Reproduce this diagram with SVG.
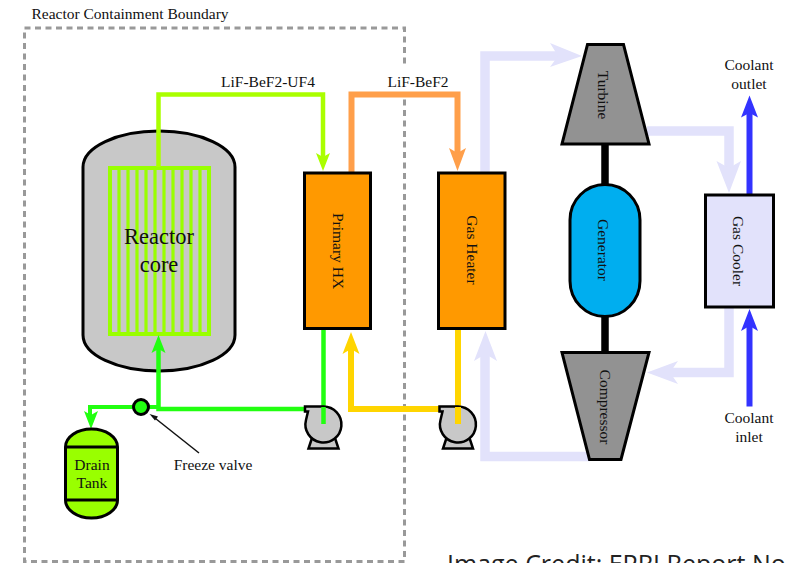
<svg xmlns="http://www.w3.org/2000/svg" width="787" height="563" viewBox="0 0 787 563">
<style>
.t{font-family:"Liberation Serif","Times New Roman",serif;font-size:15.500px;fill:#111;text-anchor:middle}
.eq{stroke:#000;stroke-width:3;stroke-linejoin:miter}
.pipe{fill:none;stroke-linejoin:miter}
.air{fill:none;stroke:#e2e2fb;stroke-width:9.500}
.bar{fill:none;stroke:#99ff00;stroke-width:3.200}
</style>
<defs>
<g id="pump">
<path d="M-11 12-15 24H15L11 12Z" fill="#c8c8c8" stroke="#000" stroke-width="2.500"/>
<path d="M-18.500-18H0A18 18 0 1 1-17.500-4.500L-15.500-13H-18.500Z" fill="#c8c8c8" stroke="#000" stroke-width="2.500"/>
</g>
</defs>
<rect width="787" height="563" fill="#fff"/>
<g id="containment">
<rect x="24.500" y="28" width="380" height="533.500" fill="none" stroke="#999" stroke-width="3" stroke-dasharray="6 4.500"/>
<rect x="384" y="68" width="68" height="24" fill="#fff"/>
<text class="t" x="130" y="19">Reactor Containment Boundary</text>
</g>
<g id="reactor">
<path class="eq" d="M83 167A76 36 0 0 1 235 167V335A76 36 0 0 1 83 335Z" fill="#c8c8c8"/>
<path class="bar" d="M119 168V334M128 168V334M137 168V334M146 168V334M155 168V334M164 168V334M173 168V334M182 168V334M191 168V334M200 168V334"/>
<rect x="110" y="168" width="99" height="166" fill="none" stroke="#99ff00" stroke-width="4"/>
<text class="t" style="font-size:22.500px" x="159" y="244">Reactor</text>
<text class="t" style="font-size:22.500px" x="159" y="272">core</text>
</g>
<g id="connectors">
<path class="pipe" d="M158.500 167V94.500H323V158" stroke="#aaff00" stroke-width="4.500"/>
<path d="M323 171 316 153 323 157 330 153Z" fill="#aaff00"/>
<path class="pipe" d="M351.500 172V94.500H457.500V155" stroke="#ff9f4a" stroke-width="6"/>
<path d="M457.500 171 449 148 457.500 153 466 148Z" fill="#ff9f4a"/>
<path class="pipe" d="M323.500 330V424" stroke="#22ff11" stroke-width="4.500"/>
<path class="pipe" d="M305 409H158.500V348" stroke="#22ff11" stroke-width="4.500"/>
<path d="M158.500 335 151.500 353 158.500 349 165.500 353Z" fill="#22ff11"/>
<path class="pipe" d="M158 407H90V418" stroke="#22ff11" stroke-width="4"/>
<path d="M91 429 84 411 91 415 98 411Z" fill="#22ff11"/>
<path class="pipe" d="M458 330V424" stroke="#ffd500" stroke-width="6"/>
<path class="pipe" d="M440 409H351V347" stroke="#ffd500" stroke-width="6"/>
<path d="M351 332 342.500 354 351 349 359.500 354Z" fill="#ffd500"/>
<path class="air" d="M485 172V56H565"/>
<path d="M582 56 550 43 558 56 550 67Z" fill="#e2e2fb"/>
<path class="air" d="M647 131H729V175"/>
<path d="M729 193 716.500 161 729 168 741 161Z" fill="#e2e2fb"/>
<path class="air" d="M729 308V372.500H665"/>
<path d="M647 372.500 678 361 670 372.500 678 384Z" fill="#e2e2fb"/>
<path class="air" d="M590 456.500H485V350"/>
<path d="M485.500 331 474 361 485.500 354 497 361Z" fill="#e2e2fb"/>
<path class="pipe" d="M749.500 194V113" stroke="#3333ff" stroke-width="6"/>
<path d="M749.500 95.500 741 117.500 749.500 113 758 117.500Z" fill="#3333ff"/>
<path class="pipe" d="M749.500 406.500V325" stroke="#3333ff" stroke-width="6"/>
<path d="M749.500 309 741 331 749.500 326 758 331Z" fill="#3333ff"/>
<path class="pipe" d="M605 145V185M605 317V352" stroke="#000" stroke-width="7.500"/>
<path class="pipe" d="M199 453 153 416.500" stroke="#111" stroke-width="1.500"/>
<path d="M149.500 414 158 416.500 155 420.500Z" fill="#111"/>
<text class="t" x="268" y="87">LiF-BeF2-UF4</text>
<text class="t" x="418" y="87">LiF-BeF2</text>
<text class="t" x="213" y="469.500">Freeze valve</text>
</g>
<g id="freeze-valve"><circle cx="141" cy="407" r="7.500" fill="#22ff11" stroke="#000" stroke-width="3"/></g>
<g id="drain-tank">
<path class="eq" d="M65.500 447A26 18 0 0 1 117.500 447V500A26 18 0 0 1 65.500 500Z" fill="#99ff00"/>
<path class="eq" d="M65.500 447H117.500M65.500 500H117.500" fill="none"/>
<text class="t" x="92" y="470">Drain</text>
<text class="t" x="92" y="488">Tank</text>
</g>
<g id="pump-1"><use href="#pump" x="323.500" y="424.500"/></g>
<g id="pump-2"><use href="#pump" x="458" y="424.500"/></g>
<path class="pipe" d="M323.500 407V424" stroke="#22ff11" stroke-width="4.500"/>
<path class="pipe" d="M458 407V424" stroke="#ffd500" stroke-width="6"/>
<g id="primary-hx">
<rect class="eq" x="304.500" y="173" width="66" height="155.500" fill="#ff9900"/>
<text class="t" transform="translate(333 251) rotate(90)">Primary HX</text>
</g>
<g id="gas-heater">
<rect class="eq" x="438.500" y="173" width="66.500" height="155.500" fill="#ff9900"/>
<text class="t" transform="translate(467 250) rotate(90)">Gas Heater</text>
</g>
<g id="turbine">
<path class="eq" d="M587.500 44.500H623.500L649 144H562Z" fill="#929292"/>
<text class="t" transform="translate(598 95) rotate(90)">Turbine</text>
</g>
<g id="generator">
<path class="eq" d="M570 220C570 200 586 184.500 605 184.500S640 200 640 220V281C640 301 624 316.500 605 316.500S570 301 570 281Z" fill="#00aeef"/>
<text class="t" transform="translate(598 250) rotate(90)">Generator</text>
</g>
<g id="compressor">
<path class="eq" d="M562 352.500H649L621 459.500H589.500Z" fill="#929292"/>
<text class="t" transform="translate(600 407) rotate(90)">Compressor</text>
</g>
<g id="gas-cooler">
<rect class="eq" x="705.500" y="195" width="68" height="112" fill="#e2e2fb"/>
<text class="t" transform="translate(733 251) rotate(90)">Gas Cooler</text>
</g>
<g id="coolant-labels">
<text class="t" x="749" y="70">Coolant</text>
<text class="t" x="749" y="88.500">outlet</text>
<text class="t" x="749" y="423">Coolant</text>
<text class="t" x="749" y="441.500">inlet</text>
</g>
<text x="447" y="573" style="font-family:'Open Sans',sans-serif;font-size:25px;fill:#222">Image Credit: EPRI Report No</text>
</svg>
